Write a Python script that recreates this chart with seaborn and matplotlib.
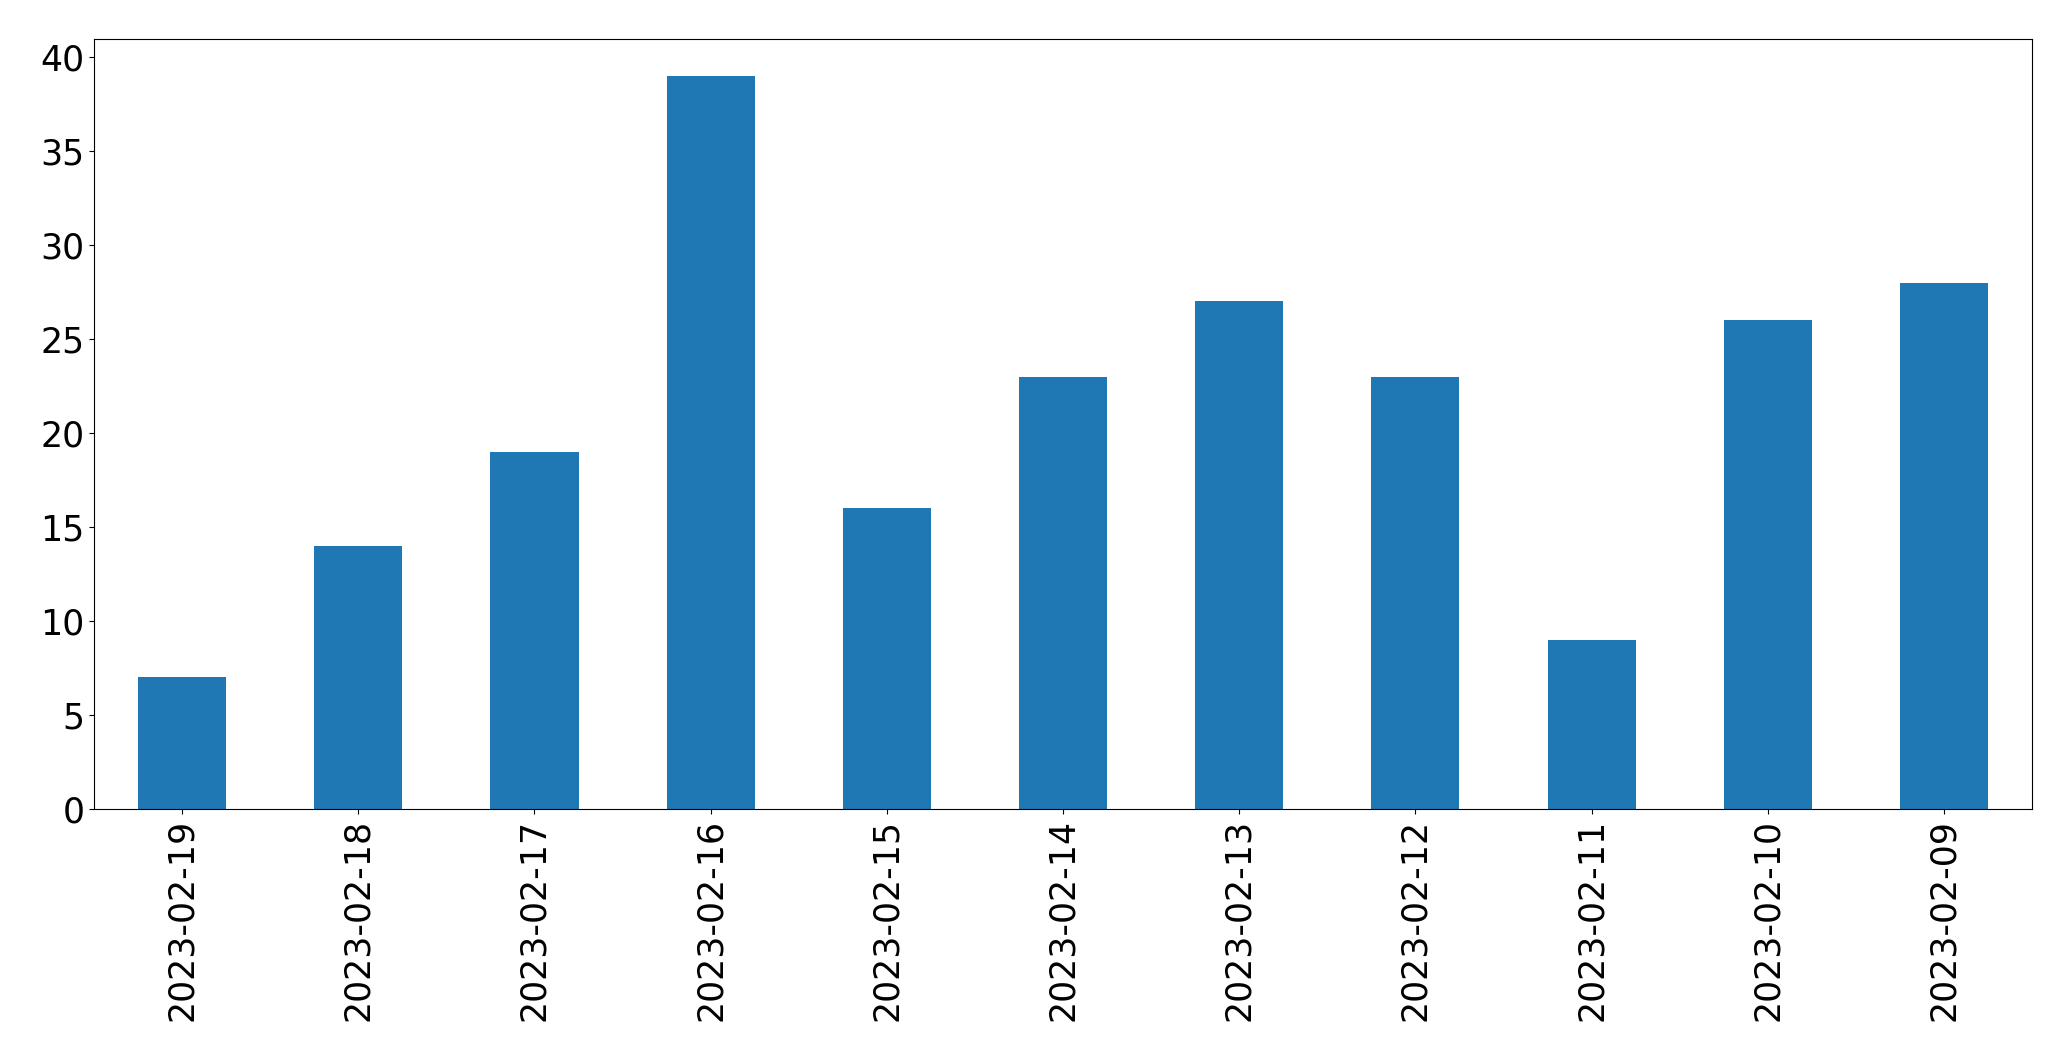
import matplotlib
matplotlib.use("Agg")
import matplotlib.pyplot as plt
import seaborn as sns
import pandas as pd

dates = ["2023-02-19", "2023-02-18", "2023-02-17", "2023-02-16", "2023-02-15",
         "2023-02-14", "2023-02-13", "2023-02-12", "2023-02-11", "2023-02-10",
         "2023-02-09"]
counts = [7, 14, 19, 39, 16, 23, 27, 23, 9, 26, 28]

df = pd.DataFrame({"date": dates, "count": counts})

fig, ax = plt.subplots(figsize=(20.71, 10.61), dpi=100)
fig.subplots_adjust(left=94 / 2071, right=2032 / 2071, top=1 - 39 / 1061, bottom=1 - 809 / 1061)

sns.barplot(data=df, x="date", y="count", ax=ax, color="#1f77b4",
            saturation=1, width=0.5, order=dates, linewidth=0)
ax.set_xlim(-0.5, len(dates) - 0.5)
ax.set_ylim(0, max(counts) * 1.05)
ax.set_xlabel("")
ax.set_ylabel("")
ax.tick_params(axis="both", labelsize=25)
ax.tick_params(axis="x", rotation=90)

plt.savefig("out.png", dpi=100)
